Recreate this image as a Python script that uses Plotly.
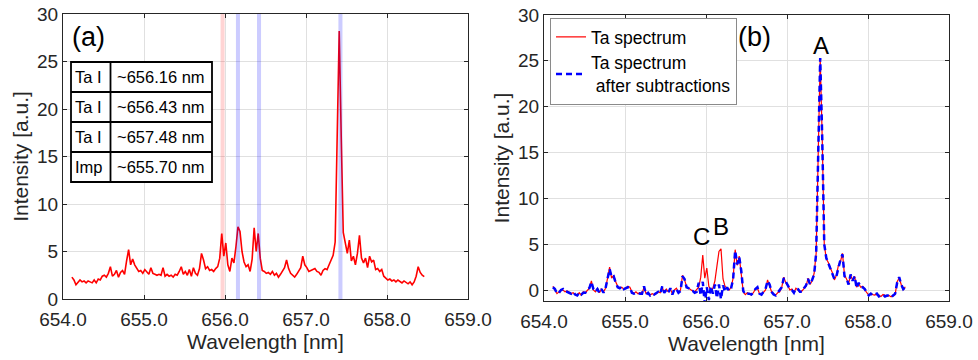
import numpy as np
import plotly.graph_objects as go

# Spectrometer wavelength grid (nm), 0.025 nm spacing
wavelength = np.linspace(654.11, 658.46, 175)

# (a) raw Ta emission spectrum [a.u.]
ta_raw = [
    2.3, 2.0, 1.5, 1.7, 2.0, 1.8, 1.9, 1.7, 1.9, 1.8, 1.7, 2.0, 1.7, 2.1, 2.0, 2.4, 2.5, 2.3, 2.7, 3.4,
    2.4, 2.6, 3.0, 2.3, 2.8, 3.0, 2.6, 4.0, 5.2, 3.6, 4.2, 3.6, 3.2, 2.9, 3.0, 2.7, 3.1, 2.8, 2.6, 3.3,
    2.7, 2.6, 2.5, 2.6, 2.5, 3.3, 2.4, 2.6, 2.4, 2.5, 2.3, 2.6, 2.5, 2.9, 3.4, 2.6, 2.9, 2.5, 3.1, 2.4,
    3.3, 2.7, 2.5, 3.2, 4.8, 4.1, 3.2, 3.4, 3.0, 3.1, 2.9, 3.2, 3.4, 4.3, 6.9, 4.5, 5.9, 3.6, 2.9, 4.3,
    3.8, 5.5, 7.6, 7.1, 5.0, 3.9, 3.4, 3.6, 2.9, 4.2, 7.5, 5.0, 6.9, 4.3, 3.0, 2.9, 2.7, 2.8, 2.6, 2.9,
    2.5, 2.7, 2.3, 2.6, 2.9, 3.3, 4.1, 3.2, 2.7, 2.5, 2.3, 2.6, 2.9, 3.3, 4.5, 3.6, 3.3, 2.9, 3.0, 3.1,
    3.2, 2.9, 2.8, 2.5, 3.0, 3.2, 3.1, 3.6, 4.2, 4.6, 6.0, 19.5, 28.2, 17.0, 7.0, 5.9, 4.8, 6.2, 4.0, 4.5,
    3.6, 4.8, 6.7, 4.3, 3.8, 4.3, 3.3, 4.5, 3.9, 4.1, 3.1, 3.2, 2.9, 3.1, 2.4, 2.2, 2.0, 2.1, 1.9, 2.0,
    1.8, 2.0, 1.8, 1.7, 1.9, 1.7, 1.6, 1.8, 1.5, 1.8, 2.4, 3.4, 2.8, 2.5, 2.35,
]

# (b) baseline-corrected Ta spectrum [a.u.]
ta_spectrum = [
    0.4, 0.0, -0.4, -0.2, 0.0, 0.0, -0.2, -0.1, -0.3, -0.4, -0.3, -0.5, -0.55, -0.3, -0.55, -0.2, -0.3, 0.0, 0.2, 1.0,
    0.0, -0.2, 0.2, -0.3, 0.1, -0.2, 0.2, 1.3, 2.5, 1.3, 1.6, 0.9, 0.4, 0.2, 0.3, 0.1, 0.2, 0.4, 0.3, -0.2,
    -0.4, -0.2, -0.4, -0.3, -0.4, 0.3, -0.4, -0.3, -0.55, -0.4, -0.5, -0.4, -0.2, -0.3, 0.3, -0.3, 0.1, -0.2, 0.1, -0.4,
    0.0, 0.2, -0.3, 0.0, 1.6, 1.1, 0.4, 0.2, 0.0, -0.1, -0.2, 0.0, 0.3, 1.4, 3.8, 1.3, 2.4, 0.4, 0.0, 0.2,
    1.0, 2.6, 4.2, 4.5, 1.2, 0.4, 0.2, 0.0, 0.3, 1.3, 4.4, 2.7, 3.7, 2.0, -0.2, -0.5, -0.3, -0.4, -0.55, -0.3,
    0.1, 0.2, -0.4, -0.5, -0.3, 0.0, 1.1, 0.5, -0.2, -0.4, -0.55, -0.3, -0.2, 0.3, 1.4, 0.8, 0.5, 0.0, 0.1, -0.3,
    0.2, 0.0, -0.2, -0.1, 0.2, 0.4, 1.3, 0.6, 1.0, 1.8, 4.0, 16.0, 25.3, 16.5, 5.0, 3.4, 3.0, 2.4, 1.9, 1.1,
    1.6, 2.7, 3.1, 4.0, 1.6, 1.2, 0.7, 1.6, 1.1, 1.5, 0.3, 0.7, 0.3, 0.4, 0.0, -0.3, -0.55, -0.4, -0.5, -0.55,
    -0.4, -0.6, -0.7, -0.5, -0.6, -0.7, -0.6, -0.75, -0.6, -0.5, 0.9, 1.3, 0.6, 0.0, 0.35,
]

# (b) Ta spectrum after subtraction of the B and C contributions [a.u.]
ta_subtracted = [
    0.3, 0.1, -0.4, -0.3, 0.0, 0.1, -0.2, -0.2, -0.3, -0.4, -0.2, -0.5, -0.6, -0.3, -0.5, -0.3, -0.3, 0.1, 0.2, 0.9,
    0.1, -0.2, 0.1, -0.3, 0.1, -0.3, 0.2, 1.2, 2.3, 1.4, 1.5, 0.8, 0.3, 0.2, 0.4, 0.1, 0.2, 0.3, 0.3, -0.3,
    -0.4, -0.3, -0.3, -0.4, -0.4, 0.4, -0.5, -0.3, -0.6, -0.4, -0.5, -0.3, -0.2, -0.4, 0.4, -0.3, 0.0, -0.3, 0.2, -0.5,
    0.1, 0.1, -0.3, -0.1, 1.5, 1.2, 0.3, 0.2, -0.1, -0.1, -0.3, -0.2, 0.8, -0.6, 0.9, -1.5, 0.3, -1.1, 0.4, -0.4,
    0.6, -0.9, 0.6, -1.0, 0.5, -0.2, 0.3, -0.1, 0.2, 1.2, 4.3, 2.8, 3.6, 2.1, -0.1, -0.5, -0.4, -0.4, -0.5, -0.3,
    0.1, 0.3, -0.4, -0.5, -0.2, 0.1, 1.0, 0.6, -0.2, -0.5, -0.6, -0.3, -0.1, 0.3, 1.3, 0.9, 0.4, 0.1, 0.0, -0.3,
    0.2, 0.1, -0.2, -0.2, 0.2, 0.5, 1.2, 0.6, 1.1, 1.7, 4.0, 16.0, 25.3, 16.5, 5.0, 3.5, 2.9, 2.5, 1.8, 1.2,
    1.5, 2.6, 3.3, 3.9, 1.5, 1.3, 0.6, 1.7, 1.0, 1.5, 0.2, 0.8, 0.3, 0.3, 0.1, -0.3, -0.6, -0.4, -0.6, -0.5,
    -0.4, -0.7, -0.6, -0.5, -0.7, -0.6, -0.6, -0.8, -0.6, -0.4, 0.8, 1.4, 0.6, 0.1, 0.3,
]

# Highlighted line positions in (a) (nm) and their shading
band_centers = [655.97, 656.16, 656.42, 657.425]
band_colors = ["rgba(255,0,0,0.17)", "rgba(0,0,255,0.2)", "rgba(0,0,255,0.2)", "rgba(0,0,255,0.2)"]
band_width = 0.05

# Line identification table in (a)
table_species = ["Ta I", "Ta I", "Ta I", "Imp"]
table_lines = ["~656.16 nm", "~656.43 nm", "~657.48 nm", "~655.70 nm"]

# Peak labels in (b): (label, wavelength, intensity)
peak_labels = [("A", 657.42, 25.0), ("B", 656.19, 5.2), ("C", 655.95, 4.1)]

W, H = 978, 360
FONT = "Liberation Sans, Arial, Helvetica, sans-serif"
INK = "#262626"


def px(x):
    return x / W


def py(y):
    return 1 - y / H


fig = go.Figure()

fig.add_trace(go.Scatter(x=wavelength, y=ta_raw, mode="lines",
                         line=dict(color="#ff0000", width=1.6),
                         xaxis="x", yaxis="y", showlegend=False))
fig.add_trace(go.Scatter(x=wavelength, y=ta_spectrum, mode="lines", name="Ta spectrum",
                         line=dict(color="#ff0000", width=1.2),
                         xaxis="x2", yaxis="y2"))
fig.add_trace(go.Scatter(x=wavelength, y=ta_subtracted, mode="lines",
                         name="Ta spectrum<br>\u00a0after subtractions",
                         line=dict(color="#0000ff", width=2.5, dash="6px,4px"),
                         xaxis="x2", yaxis="y2"))

shapes = []
for c, col in zip(band_centers, band_colors):
    shapes.append(dict(type="rect", xref="x", yref="y domain",
                       x0=c - band_width / 2, x1=c + band_width / 2, y0=0, y1=1,
                       fillcolor=col, line=dict(width=0), layer="above"))

# table frame
tl, tr, tt, tb, tc = 71, 212, 62, 182, 110.5
row_h = (tb - tt) / len(table_species)
shapes.append(dict(type="rect", xref="paper", yref="paper",
                   x0=px(tl), x1=px(tr), y0=py(tb), y1=py(tt),
                   fillcolor="white", line=dict(color="black", width=1.8), layer="above"))
shapes.append(dict(type="line", xref="paper", yref="paper",
                   x0=px(tc), x1=px(tc), y0=py(tb), y1=py(tt),
                   line=dict(color="black", width=1.8), layer="above"))
for k in range(1, len(table_species)):
    yy = tt + k * row_h
    shapes.append(dict(type="line", xref="paper", yref="paper",
                       x0=px(tl), x1=px(tr), y0=py(yy), y1=py(yy),
                       line=dict(color="black", width=1.8), layer="above"))

annotations = []
for k, (sp, ln) in enumerate(zip(table_species, table_lines)):
    yc = tt + (k + 0.5) * row_h
    annotations.append(dict(text=sp, xref="paper", yref="paper", x=px(tl + 2), y=py(yc),
                            xanchor="left", yanchor="middle", showarrow=False,
                            font=dict(family=FONT, size=16.5, color="black")))
    annotations.append(dict(text=ln, xref="paper", yref="paper", x=px(tc + 4), y=py(yc),
                            xanchor="left", yanchor="middle", showarrow=False,
                            font=dict(family=FONT, size=16.5, color="black")))

annotations.append(dict(text="(a)", xref="paper", yref="paper", x=px(88), y=py(37),
                        xanchor="center", yanchor="middle", showarrow=False,
                        font=dict(family=FONT, size=27, color="black")))
annotations.append(dict(text="(b)", xref="paper", yref="paper", x=px(754), y=py(37),
                        xanchor="center", yanchor="middle", showarrow=False,
                        font=dict(family=FONT, size=27, color="black")))
for lab, xw, yv in peak_labels:
    annotations.append(dict(text=lab, xref="x2", yref="y2", x=xw, y=yv,
                            xanchor="center", yanchor="bottom", showarrow=False,
                            font=dict(family=FONT, size=24, color="black")))

axis_common = dict(showline=True, linecolor=INK, linewidth=1, mirror="ticks",
                   ticks="inside", ticklen=4, tickcolor=INK, tickwidth=1,
                   showgrid=True, gridcolor="#e0e0e0", gridwidth=1, zeroline=False,
                   tickfont=dict(family=FONT, size=19, color=INK), automargin=False)

xcommon = dict(axis_common, range=[654, 659], dtick=1, tick0=654, tickformat=".1f",
               ticklabelstandoff=3,
               title=dict(text="Wavelength [nm]", font=dict(family=FONT, size=21, color=INK),
                          standoff=2))
ycommon = dict(axis_common, dtick=5, tick0=0,
               title=dict(text="Intensity [a.u.]", font=dict(family=FONT, size=21, color=INK),
                          standoff=2))

fig.update_layout(
    width=W, height=H,
    margin=dict(l=0, r=0, t=0, b=0),
    paper_bgcolor="white", plot_bgcolor="white",
    xaxis=dict(xcommon, domain=[px(63), px(468)], anchor="y"),
    yaxis=dict(ycommon, domain=[py(299), py(14)], range=[0, 30], anchor="x"),
    xaxis2=dict(xcommon, domain=[px(544), px(949)], anchor="y2"),
    yaxis2=dict(ycommon, domain=[py(301), py(15)], range=[-1.2, 30], anchor="x2"),
    shapes=shapes,
    annotations=annotations,
    legend=dict(x=px(550), y=py(18), xanchor="left", yanchor="top",
                bgcolor="white", bordercolor="#8a8a8a", borderwidth=1,
                font=dict(family=FONT, size=17.5, color="black"),
                tracegroupgap=0, itemwidth=30),
)

fig.write_html("out.html")
